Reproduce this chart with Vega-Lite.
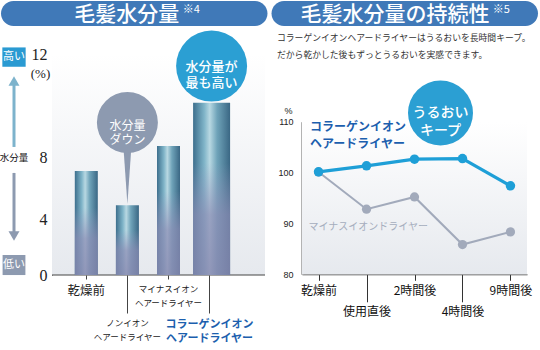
{
  "$schema": "https://vega.github.io/schema/vega-lite/v6.json",
  "width": 540, "height": 350, "autosize": "none", "padding": 0,
  "config": {"view": {"stroke": null}, "font": "Noto Sans CJK JP"},
  "resolve": {"scale": {"x": "independent", "y": "independent"}, "axis": {"x": "independent", "y": "independent"}},
  "layer": [
    {
      "data": {"values": [{"panel": "left", "title": "毛髪水分量", "note": "※4"}, {"panel": "right", "title": "毛髪水分量の持続性", "note": "※5"}]},
      "encoding": {"x": {"field": "panel", "type": "nominal", "scale": {"type": "band", "domain": ["left", "right"], "range": [1, 538], "paddingInner": 0.0149, "paddingOuter": 0}, "axis": null}},
      "layer": [
        {"mark": {"type": "rect", "color": "#4079b8", "cornerRadius": 12.5}, "encoding": {"y": {"datum": 0, "type": "quantitative", "scale": {"domain": [0, 1], "range": [26, 1]}, "axis": null}, "y2": {"datum": 1}}},
        {"transform": [{"filter": "datum.panel === 'left'"}], "mark": {"type": "text", "color": "white", "fontSize": 21, "fontWeight": 500, "dx": -7.5, "baseline": "middle"}, "encoding": {"y": {"datum": 0.44, "type": "quantitative"}, "text": {"field": "title"}}},
        {"transform": [{"filter": "datum.panel === 'left'"}], "mark": {"type": "text", "color": "white", "fontSize": 11, "align": "left", "dx": 48.5, "baseline": "middle"}, "encoding": {"y": {"datum": 0.64, "type": "quantitative"}, "text": {"field": "note"}}},
        {"transform": [{"filter": "datum.panel === 'right'"}], "mark": {"type": "text", "color": "white", "fontSize": 21, "fontWeight": 500, "dx": -9.75, "baseline": "middle"}, "encoding": {"y": {"datum": 0.44, "type": "quantitative"}, "text": {"field": "title"}}},
        {"transform": [{"filter": "datum.panel === 'right'"}], "mark": {"type": "text", "color": "white", "fontSize": 11, "align": "left", "dx": 88, "baseline": "middle"}, "encoding": {"y": {"datum": 0.64, "type": "quantitative"}, "text": {"field": "note"}}}
      ]
    },
    {
      "data": {"values": [{"line": 1, "text": "コラーゲンイオンヘアードライヤーはうるおいを長時間キープ。"}, {"line": 2, "text": "だから乾かした後もずっとうるおいを実感できます。"}]},
      "mark": {"type": "text", "align": "left", "baseline": "middle", "fontSize": 8.8, "color": "#333"},
      "encoding": {
        "x": {"datum": 0, "type": "quantitative", "scale": {"domain": [0, 1], "range": [277, 538]}, "axis": null},
        "y": {"field": "line", "type": "ordinal", "scale": {"type": "point", "domain": [1, 2], "range": [38, 55], "padding": 0}, "axis": null},
        "text": {"field": "text"}
      }
    },
    {
      "data": {"values": [{}]},
      "encoding": {"x": {"datum": 0.5, "type": "quantitative", "scale": {"domain": [0, 1], "range": [1, 27]}, "axis": null}},
      "layer": [
        {"mark": {"type": "rule", "color": "#7db3cc", "strokeWidth": 3}, "encoding": {"y": {"datum": 8.39, "type": "quantitative", "scale": {"domain": [0, 4, 8, 12], "range": [275, 219.5, 157, 54]}, "axis": null}, "y2": {"datum": 10.8}}},
        {"mark": {"type": "point", "shape": "triangle-up", "filled": true, "opacity": 1, "color": "#7db3cc", "size": 120}, "encoding": {"y": {"datum": 10.95, "type": "quantitative"}}},
        {"mark": {"type": "rule", "color": "#8d9ab0", "strokeWidth": 3}, "encoding": {"y": {"datum": 6.98, "type": "quantitative"}, "y2": {"datum": 3.1}}},
        {"mark": {"type": "point", "shape": "triangle-down", "filled": true, "opacity": 1, "color": "#8d9ab0", "size": 120}, "encoding": {"y": {"datum": 2.81, "type": "quantitative"}}},
        {"mark": {"type": "point", "shape": "M-1,-0.83L1,-0.83L1,0.83L-1,0.83Z", "filled": true, "opacity": 1, "color": "#2a9ad2", "size": 543}, "encoding": {"y": {"datum": 11.88, "type": "quantitative"}}},
        {"mark": {"type": "point", "shape": "M-1,-0.88L1,-0.88L1,0.88L-1,0.88Z", "filled": true, "opacity": 1, "color": "#8d9ab0", "size": 520}, "encoding": {"y": {"datum": 0.72, "type": "quantitative"}}},
        {"mark": {"type": "text", "text": "高い", "color": "white", "fontSize": 11, "baseline": "middle"}, "encoding": {"y": {"datum": 11.88, "type": "quantitative"}}},
        {"mark": {"type": "text", "text": "低い", "color": "white", "fontSize": 11, "baseline": "middle"}, "encoding": {"y": {"datum": 0.72, "type": "quantitative"}}},
        {"mark": {"type": "text", "text": "水分量", "color": "#111", "fontSize": 9.5, "baseline": "middle"}, "encoding": {"y": {"datum": 7.92, "type": "quantitative"}}}
      ]
    },
    {
      "data": {"values": [{}]},
      "encoding": {"x": {"datum": 0, "type": "quantitative", "scale": {"domain": [0, 1], "range": [52, 265]}, "axis": null}, "x2": {"datum": 1}},
      "layer": [
        {"mark": {"type": "rect", "color": {"gradient": "linear", "x1": 0, "y1": 0, "x2": 0, "y2": 1, "stops": [{"offset": 0, "color": "#ffffff"}, {"offset": 1, "color": "#e6e9ee"}]}}, "encoding": {"y": {"datum": 0, "type": "quantitative", "scale": {"domain": [0, 4, 8, 12], "range": [275, 219.5, 157, 54]}, "axis": null}, "y2": {"datum": 12}}},
        {"mark": {"type": "rule", "color": "#444", "strokeWidth": 1}, "encoding": {"y": {"datum": 0, "type": "quantitative"}}}
      ]
    },
    {
      "data": {"values": [
        {"item": "乾燥前", "v": 7.1},
        {"item": "ノンイオンヘアードライヤー", "v": 4.91},
        {"item": "マイナスイオンヘアードライヤー", "v": 8.43},
        {"item": "コラーゲンイオンヘアードライヤー", "v": 10.11}
      ]},
      "layer": [
        {
          "transform": [{"filter": "datum.item !== 'コラーゲンイオンヘアードライヤー'"}],
          "mark": {"type": "bar", "size": 23, "color": {"gradient": "linear", "x1": 0, "y1": 0, "x2": 1, "y2": 0, "stops": [{"offset": 0, "color": "#3d6f8d"}, {"offset": 0.3, "color": "#7fb4c8"}, {"offset": 0.45, "color": "#b8d8e2"}, {"offset": 0.65, "color": "#6fa3b9"}, {"offset": 1, "color": "#3a6784"}]}},
          "encoding": {
            "x": {
              "field": "item", "type": "nominal",
              "scale": {"type": "band", "domain": ["乾燥前", "ノンイオンヘアードライヤー", "マイナスイオンヘアードライヤー", "コラーゲンイオンヘアードライヤー"], "range": [52, 243.9], "paddingInner": 0, "paddingOuter": 0.3345},
              "axis": {
                "orient": "bottom", "offset": -75,
                "title": null, "domain": false, "labelAngle": 0, "labelOverlap": false, "labelLimit": 300,
                "tickColor": "#444", "tickWidth": 1,
                "tickSize": {"condition": {"test": "datum.value === 'ノンイオンヘアードライヤー' || datum.value === 'コラーゲンイオンヘアードライヤー'", "value": 38}, "value": 4},
                "labelPadding": 5,
                "labelBaseline": "top",
                "labelLineHeight": 14.5,
                "labelExpr": "datum.value === '乾燥前' ? datum.value : [replace(datum.value, 'ヘアードライヤー', ''), 'ヘアードライヤー']",
                "labelFontSize": {"condition": [{"test": "datum.value === '乾燥前'", "value": 12.5}, {"test": "datum.value === 'コラーゲンイオンヘアードライヤー'", "value": 11}], "value": 8.5},
                "labelColor": {"condition": {"test": "datum.value === 'コラーゲンイオンヘアードライヤー'", "value": "#1c5fae"}, "value": "#222"},
                "labelFontWeight": {"condition": {"test": "datum.value === 'コラーゲンイオンヘアードライヤー'", "value": "bold"}, "value": "normal"}
              }
            },
            "y": {
              "field": "v", "type": "quantitative",
              "scale": {"domain": [0, 4, 8, 12], "range": [275, 219.5, 157, 54]},
              "axis": {
                "orient": "left", "offset": -52,
                "values": [0, 4, 8, 12], "title": "(%)", "titleAngle": 0, "titleX": -12, "titleY": 73, "titleAlign": "center", "titleBaseline": "middle",
                "titleFont": "Liberation Serif", "titleFontSize": 13, "titleFontWeight": "normal", "titleColor": "#222",
                "labelFont": "Liberation Serif", "labelFontSize": 16, "labelColor": "#222", "ticks": false, "labelPadding": 5,
                "domainColor": "#555", "grid": false
              }
            }
          }
        },
        {
          "transform": [{"filter": "datum.item !== 'コラーゲンイオンヘアードライヤー'"}],
          "mark": {"type": "bar", "size": 23, "color": {"gradient": "linear", "x1": 0, "y1": 0, "x2": 0, "y2": 1, "stops": [{"offset": 0, "color": "rgba(150,150,190,0)"}, {"offset": 0.35, "color": "rgba(150,150,190,0)"}, {"offset": 0.65, "color": "rgba(140,140,180,0.7)"}, {"offset": 1, "color": "rgba(135,135,175,0.8)"}]}},
          "encoding": {"x": {"field": "item", "type": "nominal"}, "y": {"field": "v", "type": "quantitative"}}
        },
        {
          "transform": [{"filter": "datum.item === 'コラーゲンイオンヘアードライヤー'"}],
          "mark": {"type": "bar", "size": 37, "xOffset": 2, "color": {"gradient": "linear", "x1": 0, "y1": 0, "x2": 1, "y2": 0, "stops": [{"offset": 0, "color": "#3d6f8d"}, {"offset": 0.3, "color": "#7fb4c8"}, {"offset": 0.45, "color": "#b8d8e2"}, {"offset": 0.65, "color": "#6fa3b9"}, {"offset": 1, "color": "#3a6784"}]}},
          "encoding": {"x": {"field": "item", "type": "nominal"}, "y": {"field": "v", "type": "quantitative"}}
        },
        {
          "transform": [{"filter": "datum.item === 'コラーゲンイオンヘアードライヤー'"}],
          "mark": {"type": "bar", "size": 37, "xOffset": 2, "color": {"gradient": "linear", "x1": 0, "y1": 0, "x2": 0, "y2": 1, "stops": [{"offset": 0, "color": "rgba(150,150,190,0)"}, {"offset": 0.35, "color": "rgba(150,150,190,0)"}, {"offset": 0.65, "color": "rgba(140,140,180,0.7)"}, {"offset": 1, "color": "rgba(135,135,175,0.8)"}]}},
          "encoding": {"x": {"field": "item", "type": "nominal"}, "y": {"field": "v", "type": "quantitative"}}
        },
        {"data": {"values": [{}]}, "mark": {"type": "point", "shape": "M-0.14,-1L0.14,-1L0,1Z", "filled": true, "opacity": 1, "color": "#8d9ab0", "size": 3600}, "encoding": {"x": {"datum": "ノンイオンヘアードライヤー", "type": "nominal"}, "y": {"datum": 6.91, "type": "quantitative"}}},
        {"data": {"values": [{}]}, "mark": {"type": "point", "shape": "circle", "filled": true, "opacity": 1, "color": "#8d9ab0", "size": 3721}, "encoding": {"x": {"datum": "ノンイオンヘアードライヤー", "type": "nominal"}, "y": {"datum": 9.34, "type": "quantitative"}}},
        {"data": {"values": [{}]}, "mark": {"type": "text", "text": ["水分量", "ダウン"], "color": "white", "fontSize": 12, "lineHeight": 14.5, "baseline": "middle"}, "encoding": {"x": {"datum": "ノンイオンヘアードライヤー", "type": "nominal"}, "y": {"datum": 9.22, "type": "quantitative"}}},
        {"data": {"values": [{}]}, "mark": {"type": "point", "shape": "circle", "filled": true, "opacity": 1, "color": "#2b9fd3", "size": 5041, "xOffset": 2}, "encoding": {"x": {"datum": "コラーゲンイオンヘアードライヤー", "type": "nominal"}, "y": {"datum": 11.53, "type": "quantitative"}}},
        {"data": {"values": [{}]}, "mark": {"type": "text", "text": ["水分量が", "最も高い"], "color": "white", "fontSize": 13, "fontWeight": 500, "lineHeight": 16.7, "baseline": "middle", "xOffset": 2}, "encoding": {"x": {"datum": "コラーゲンイオンヘアードライヤー", "type": "nominal"}, "y": {"datum": 11.51, "type": "quantitative"}}}
      ]
    },
    {
      "data": {"values": [{}]},
      "encoding": {"x": {"datum": 0, "type": "quantitative", "scale": {"domain": [0, 1], "range": [302, 527]}, "axis": null}, "x2": {"datum": 1}},
      "layer": [
        {"mark": {"type": "rect", "color": {"gradient": "linear", "x1": 0, "y1": 0, "x2": 0, "y2": 1, "stops": [{"offset": 0, "color": "#ffffff"}, {"offset": 1, "color": "#e6e9ee"}]}}, "encoding": {"y": {"datum": 80, "type": "quantitative", "scale": {"domain": [80, 110], "range": [274.3, 121.7], "zero": false, "nice": false}, "axis": null}, "y2": {"datum": 110}}}
      ]
    },
    {
      "data": {"values": [
        {"t": "乾燥前", "series": "コラーゲンイオンヘアードライヤー", "v": 100.14},
        {"t": "使用直後", "series": "コラーゲンイオンヘアードライヤー", "v": 101.32},
        {"t": "2時間後", "series": "コラーゲンイオンヘアードライヤー", "v": 102.63},
        {"t": "4時間後", "series": "コラーゲンイオンヘアードライヤー", "v": 102.75},
        {"t": "9時間後", "series": "コラーゲンイオンヘアードライヤー", "v": 97.39},
        {"t": "乾燥前", "series": "マイナスイオンドライヤー", "v": 100.1},
        {"t": "使用直後", "series": "マイナスイオンドライヤー", "v": 92.8},
        {"t": "2時間後", "series": "マイナスイオンドライヤー", "v": 95.2},
        {"t": "4時間後", "series": "マイナスイオンドライヤー", "v": 85.85},
        {"t": "9時間後", "series": "マイナスイオンドライヤー", "v": 88.34}
      ]},
      "layer": [
        {
          "transform": [{"filter": "datum.series === 'マイナスイオンドライヤー'"}],
          "mark": {"type": "line", "color": "#a2aabb", "strokeWidth": 2, "point": {"filled": true, "size": 85, "color": "#a2aabb", "opacity": 1}},
          "encoding": {
            "x": {
              "field": "t", "type": "ordinal",
              "scale": {"type": "point", "domain": ["乾燥前", "使用直後", "2時間後", "4時間後", "9時間後"], "range": [302, 527], "padding": 0.345},
              "axis": {
                "orient": "bottom", "offset": -75.7,
                "title": null, "labelAngle": 0, "domainColor": "#555", "tickColor": "#333", "tickWidth": 1,
                "tickSize": {"condition": {"test": "datum.value === '使用直後' || datum.value === '4時間後'", "value": 27.5}, "value": 6},
                "labelPadding": 5, "labelFontSize": 12, "labelColor": "#111", "labelBaseline": "top", "labelOverlap": false
              }
            },
            "y": {
              "field": "v", "type": "quantitative",
              "scale": {"domain": [80, 110], "range": [274.3, 121.7], "zero": false, "nice": false},
              "axis": {
                "orient": "left", "offset": -302,
                "values": [80, 90, 100, 110], "ticks": false, "grid": false, "domainColor": "#9a9a9a", "domainWidth": 2.5,
                "labelFont": "Liberation Sans", "labelFontSize": 9, "labelColor": "#222", "labelPadding": 9,
                "title": "%", "titleAngle": 0, "titleX": -14, "titleY": 110.7, "titleAlign": "center", "titleBaseline": "middle",
                "titleFont": "Liberation Sans", "titleFontSize": 9, "titleFontWeight": "normal", "titleColor": "#222"
              }
            }
          }
        },
        {
          "transform": [{"filter": "datum.series === 'コラーゲンイオンヘアードライヤー'"}],
          "mark": {"type": "line", "color": "#1e9fd7", "strokeWidth": 3.2, "point": {"filled": true, "size": 90, "color": "#1e9fd7", "opacity": 1}},
          "encoding": {"x": {"field": "t", "type": "ordinal"}, "y": {"field": "v", "type": "quantitative"}}
        },
        {"data": {"values": [{}]}, "mark": {"type": "text", "text": ["コラーゲンイオン", "ヘアードライヤー"], "color": "#1c5fae", "fontSize": 12, "fontWeight": "bold", "lineHeight": 17.7, "align": "left", "baseline": "top", "dx": -8.5}, "encoding": {"x": {"datum": "乾燥前", "type": "ordinal"}, "y": {"datum": 110, "type": "quantitative"}}},
        {"data": {"values": [{}]}, "mark": {"type": "text", "text": "マイナスイオンドライヤー", "color": "#a5adbd", "fontSize": 10, "align": "left", "baseline": "middle", "dx": -10}, "encoding": {"x": {"datum": "乾燥前", "type": "ordinal"}, "y": {"datum": 89.33, "type": "quantitative"}}},
        {"data": {"values": [{}]}, "mark": {"type": "point", "shape": "circle", "filled": true, "opacity": 1, "color": "#2b9fd3", "size": 4225, "xOffset": 26}, "encoding": {"x": {"datum": "2時間後", "type": "ordinal"}, "y": {"datum": 111.7, "type": "quantitative"}}},
        {"data": {"values": [{}]}, "mark": {"type": "text", "text": ["うるおい", "キープ"], "color": "white", "fontSize": 14, "fontWeight": 500, "lineHeight": 18.4, "baseline": "middle", "xOffset": 26}, "encoding": {"x": {"datum": "2時間後", "type": "ordinal"}, "y": {"datum": 111.7, "type": "quantitative"}}}
      ]
    }
  ]
}
